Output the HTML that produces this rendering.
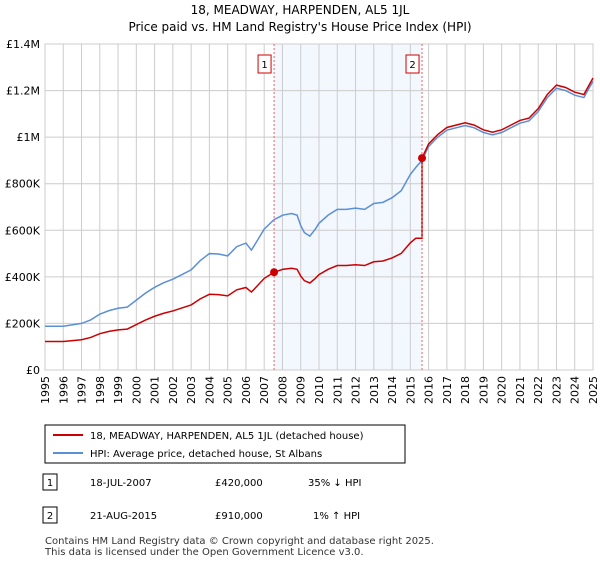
<!DOCTYPE html>
<html><head><meta charset="utf-8"><style>
body{margin:0;background:#fff;font-family:"Liberation Sans","DejaVu Sans",sans-serif;}
svg text{font-family:"DejaVu Sans","Liberation Sans",sans-serif;}
</style></head><body>
<svg width="600" height="560" viewBox="0 0 600 560">
<text x="300" y="14" text-anchor="middle" font-size="12">18, MEADWAY, HARPENDEN, AL5 1JL</text>
<text x="300" y="31" text-anchor="middle" font-size="12">Price paid vs. HM Land Registry's House Price Index (HPI)</text>
<g id="plot"></g>
<rect x="45" y="425" width="360" height="38" fill="#fff" stroke="#000" stroke-width="1"/>
<line x1="53" y1="435" x2="83" y2="435" stroke="#cc0000" stroke-width="2"/>
<text x="90" y="439" font-size="10">18, MEADWAY, HARPENDEN, AL5 1JL (detached house)</text>
<line x1="53" y1="453" x2="83" y2="453" stroke="#5b8fd6" stroke-width="2"/>
<text x="90" y="457" font-size="10">HPI: Average price, detached house, St Albans</text>
<rect x="43" y="474" width="14" height="16" fill="#fff" stroke="#000"/>
<text x="50" y="486" text-anchor="middle" font-size="10">1</text>
<text x="90" y="486" font-size="10">18-JUL-2007</text>
<text x="215" y="486" font-size="10">£420,000</text>
<text x="308" y="486" font-size="10">35% ↓ HPI</text>
<rect x="43" y="507" width="14" height="16" fill="#fff" stroke="#000"/>
<text x="50" y="519" text-anchor="middle" font-size="10">2</text>
<text x="90" y="519" font-size="10">21-AUG-2015</text>
<text x="215" y="519" font-size="10">£910,000</text>
<text x="313" y="519" font-size="10">1% ↑ HPI</text>
<text x="45" y="544" font-size="10" fill="#333">Contains HM Land Registry data © Crown copyright and database right 2025.</text>
<text x="45" y="555" font-size="10" fill="#333">This data is licensed under the Open Government Licence v3.0.</text>
</svg>
<script>
const hpiYears=[1995,1996,1997,1997.5,1998,1998.5,1999,1999.5,2000,2000.5,2001,2001.5,2002,2002.5,2003,2003.5,2004,2004.5,2005,2005.5,2006,2006.3,2006.5,2007,2007.54,2007.9,2008,2008.5,2008.8,2009,2009.2,2009.5,2009.8,2010,2010.5,2011,2011.5,2012,2012.5,2013,2013.5,2014,2014.5,2015,2015.3,2015.64,2016,2016.5,2017,2017.5,2018,2018.5,2019,2019.5,2020,2020.5,2021,2021.5,2022,2022.5,2023,2023.5,2024,2024.5,2025];
const hpiValues=[188,188,200,215,240,255,265,270,300,330,355,375,390,410,430,470,500,498,490,530,545,515,540,605,646,660,665,672,665,620,590,575,605,630,665,690,690,695,690,715,720,740,770,840,870,900,960,1000,1030,1040,1050,1040,1020,1010,1020,1040,1060,1070,1110,1170,1210,1200,1180,1170,1240];
const saleYears=[2007.54,2015.64];
const salePrices=[420,910];
const yTicks=[0,200,400,600,800,1000,1200,1400];
const yTickLabels=["£0","£200K","£400K","£600K","£800K","£1M","£1.2M","£1.4M"];
const xTicks=[1995,1996,1997,1998,1999,2000,2001,2002,2003,2004,2005,2006,2007,2008,2009,2010,2011,2012,2013,2014,2015,2016,2017,2018,2019,2020,2021,2022,2023,2024,2025];
const X0=45,X1=593,Y0=370,Y1=44;
const sx=y=>X0+(y-1995)/30*(X1-X0);
const sy=v=>Y0-v/1400*(Y0-Y1);
const NS="http://www.w3.org/2000/svg";
const g=document.getElementById('plot');
function mk(t,a,p){const e=document.createElementNS(NS,t);for(const k in a)e.setAttribute(k,a[k]);(p||g).appendChild(e);return e;}
const sh=mk('rect',{x:sx(saleYears[0]),y:Y1,width:sx(saleYears[1])-sx(saleYears[0]),height:Y0-Y1,fill:'#eef3fd',opacity:0.7});


yTicks.forEach((t,i)=>{
 const l=mk('line',{x1:X0,x2:X1,y1:sy(t),y2:sy(t),stroke:'#ccc'});
 
 
 const tx=mk('text',{x:X0-5,y:sy(t)+4,'text-anchor':'end','font-size':11});
 tx.textContent=yTickLabels[i];
 
 
});
xTicks.forEach(t=>{
 const l=mk('line',{x1:sx(t),x2:sx(t),y1:Y1,y2:Y0,stroke:'#ccc'});
 
 
 const tx=mk('text',{x:0,y:0,'text-anchor':'end','font-size':11,transform:`translate(${sx(t)+4},${Y0+6}) rotate(-90)`});
 tx.textContent=t;
 
 
});
mk('rect',{x:X0,y:Y1,width:X1-X0,height:Y0-Y1,fill:'none',stroke:'#ccc'});
function hpiAt(y){for(let i=1;i<hpiYears.length;i++){if(y<=hpiYears[i]){const f=(y-hpiYears[i-1])/(hpiYears[i]-hpiYears[i-1]);return hpiValues[i-1]+f*(hpiValues[i]-hpiValues[i-1]);}}return hpiValues[hpiValues.length-1];}
function ratioAt(y){return y<saleYears[1]?salePrices[0]/hpiAt(saleYears[0]):salePrices[1]/hpiAt(saleYears[1]);}
const hp=mk('polyline',{points:hpiYears.map((y,i)=>sx(y)+','+sy(hpiValues[i])).join(' '),fill:'none',stroke:'#5b8fd6','stroke-width':1.5});


const pts=[];
hpiYears.forEach((y,i)=>{
 if(y===saleYears[1]){pts.push([y,hpiValues[i-1]*ratioAt(y-0.001)]);}
 pts.push([y,hpiValues[i]*ratioAt(y)]);
});
const rp=mk('polyline',{points:pts.map(p=>sx(p[0])+','+sy(p[1])).join(' '),fill:'none',stroke:'#cc0000','stroke-width':1.5});


saleYears.forEach((y,i)=>{
 const l=mk('line',{x1:sx(y),x2:sx(y),y1:Y1,y2:Y0,stroke:'#f06060','stroke-dasharray':'2,2'});
 
 
 const b=mk('rect',{x:sx(y)-16,y:55,width:13,height:18,fill:'#fff',stroke:'#cc0000'});
 
 
 const t=mk('text',{x:sx(y)-9.5,y:68,'text-anchor':'middle','font-size':10});
 t.textContent=String(i+1);
 const c=mk('circle',{cx:sx(y),cy:sy(salePrices[i]),r:4,fill:'#cc0000'});
 
 
});
</script>
</body></html>
